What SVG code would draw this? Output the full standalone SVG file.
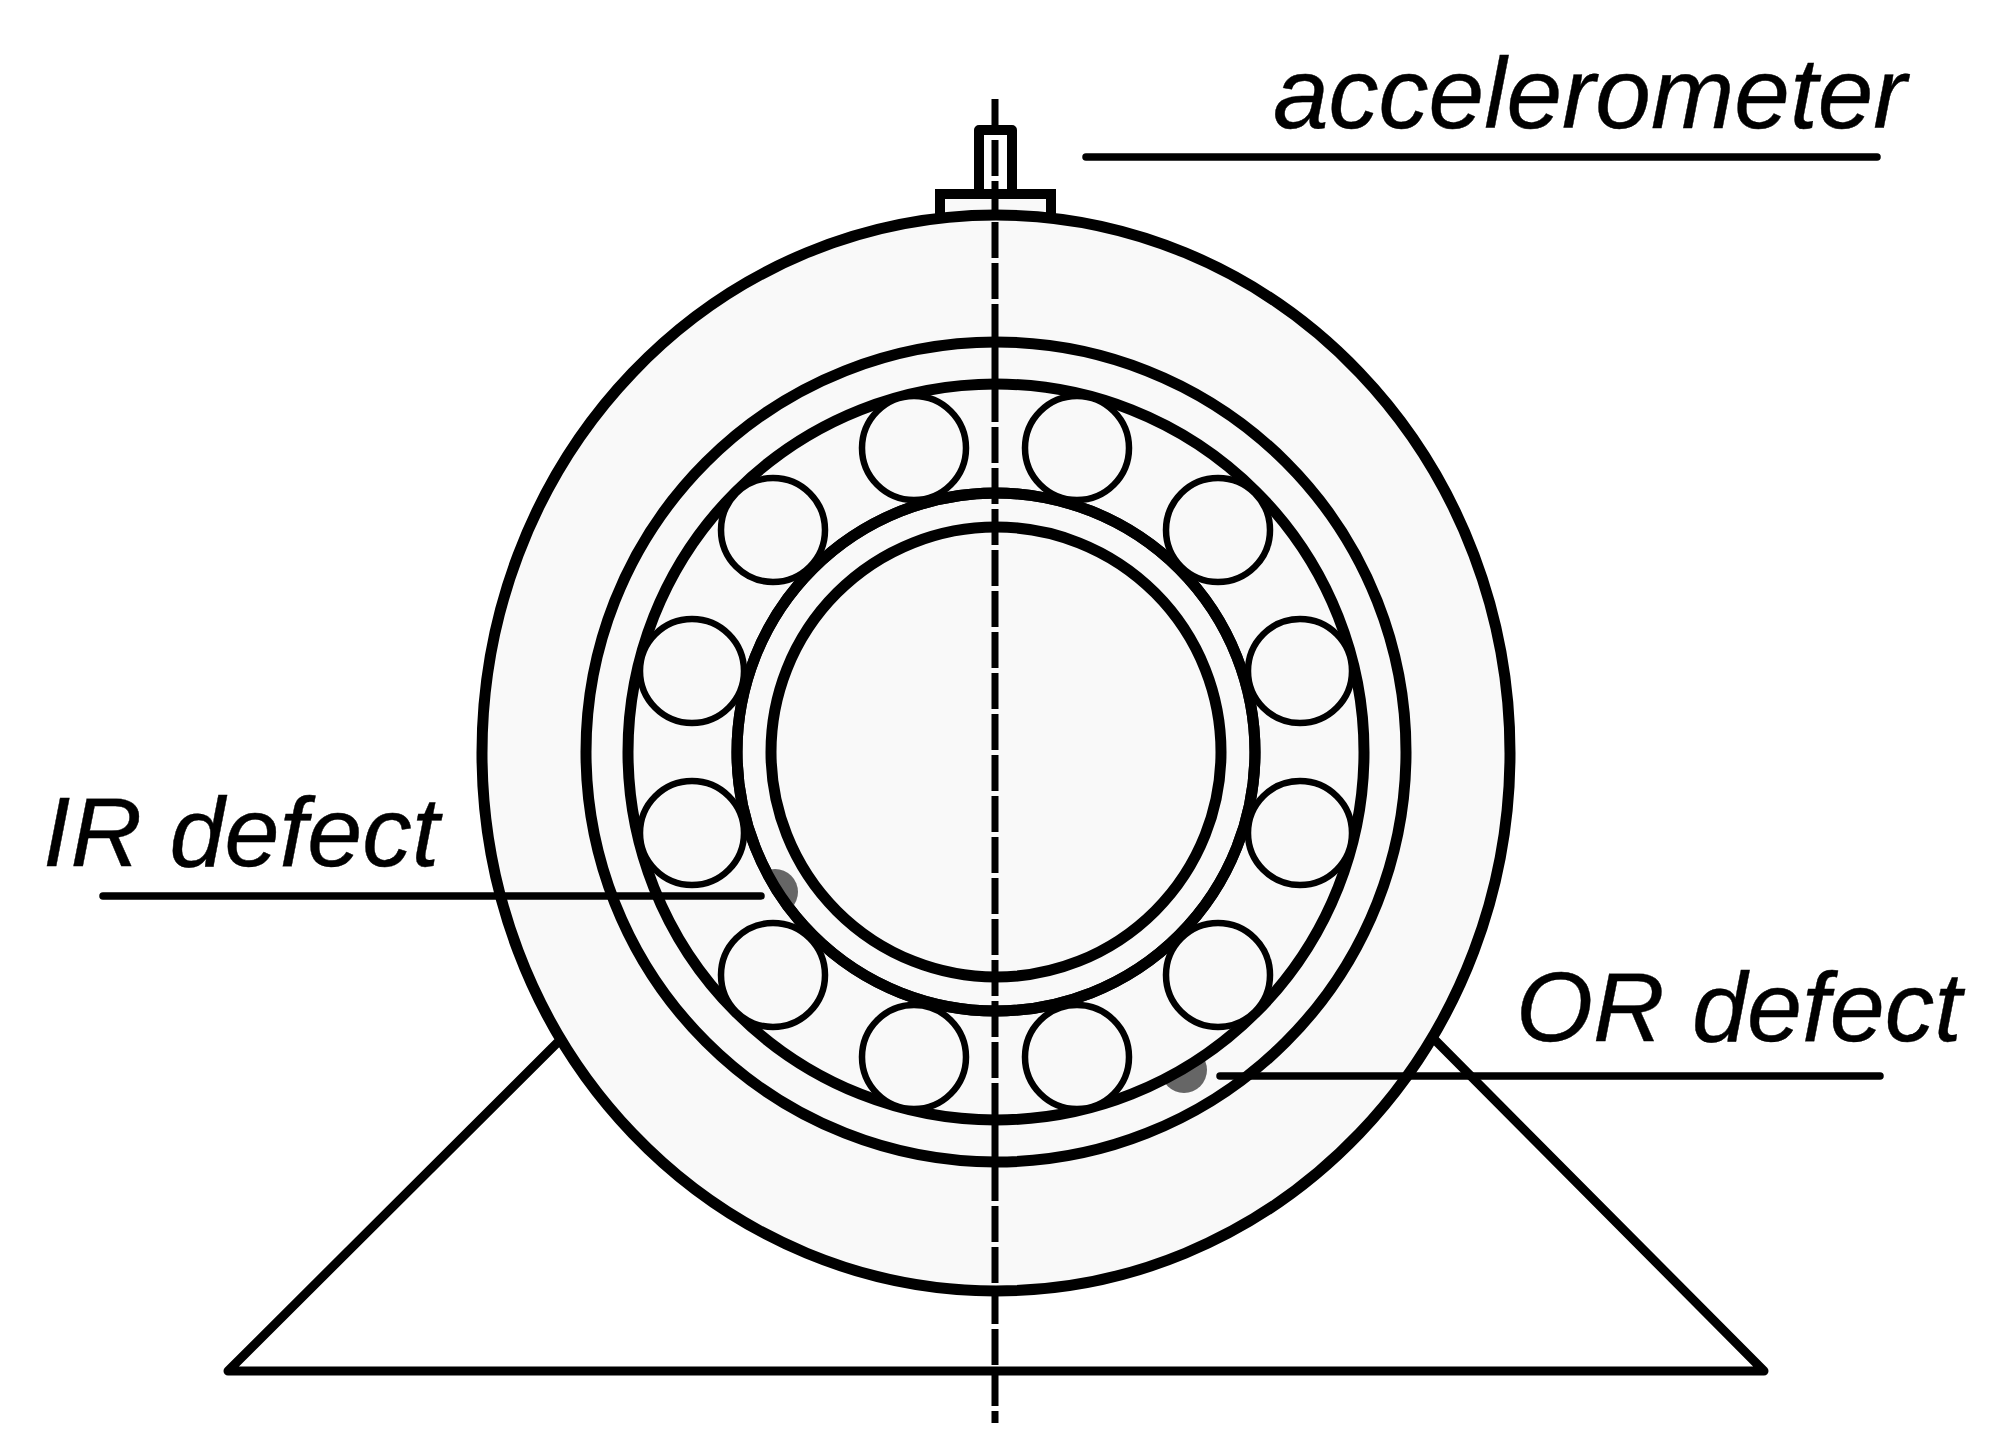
<svg xmlns="http://www.w3.org/2000/svg" width="2007" height="1452" viewBox="0 0 2007 1452">
<style>
.part{fill:#f9f9f9;stroke:#000;stroke-width:11}
.ball{fill:#f9f9f9;stroke:#000;stroke-width:6.5}
.defect{fill:#666}
.lead{fill:none;stroke:#000;stroke-width:7.5;stroke-linecap:round;stroke-linejoin:round}
.stand{fill:none;stroke:#000;stroke-width:9;stroke-linecap:round;stroke-linejoin:round}
.label{font-family:"Liberation Sans",Arial,sans-serif;font-style:italic;font-size:100px;fill:#000;stroke:#000;stroke-width:.4}
.short{font-size:99px}
</style>
<defs><clipPath id="irClip"><circle cx="996" cy="752" r="259"/></clipPath></defs>
<rect width="2007" height="1452" fill="#fff"/>
<g id="stand"><path class="stand" d="M557 1043L228 1371H1764L1433 1038"/></g>
<g id="sensor">
<path d="M979 189V130H1012V189" fill="#fff" stroke="#000" stroke-width="10" stroke-linejoin="round"/>
<path d="M940 230V194H1051V230" fill="#f9f9f9" stroke="#000" stroke-width="10"/>
</g>
<g id="housing"><ellipse class="part" cx="996" cy="753" rx="514" ry="538"/></g>
<g id="outer-race"><circle class="part" cx="996" cy="752" r="410"/></g>
<g id="or-defect-mark"><circle class="defect" cx="1184" cy="1070" r="23"/></g>
<g id="outer-race-bore"><circle class="part" cx="996" cy="752" r="368"/></g>
<g id="inner-race"><circle class="part" cx="996" cy="752" r="259"/></g>
<g id="ir-defect-mark"><circle class="defect" cx="775" cy="892" r="23" clip-path="url(#irClip)"/></g>
<g id="inner-race-outline"><circle cx="996" cy="752" r="259" fill="none" stroke="#000" stroke-width="11"/></g>
<g id="bore"><circle class="part" cx="996" cy="752" r="225"/></g>
<g id="balls">
<circle class="ball" cx="914" cy="448" r="52"/>
<circle class="ball" cx="1077" cy="448" r="52"/>
<circle class="ball" cx="773" cy="530" r="52"/>
<circle class="ball" cx="1218" cy="530" r="52"/>
<circle class="ball" cx="692" cy="671" r="52"/>
<circle class="ball" cx="1300" cy="671" r="52"/>
<circle class="ball" cx="692" cy="833" r="52"/>
<circle class="ball" cx="1300" cy="833" r="52"/>
<circle class="ball" cx="773" cy="975" r="52"/>
<circle class="ball" cx="1218" cy="975" r="52"/>
<circle class="ball" cx="914" cy="1057" r="52"/>
<circle class="ball" cx="1077" cy="1057" r="52"/>
</g>
<g id="connectors">
<path d="M995 99V1423" fill="none" stroke="#000" stroke-width="7" stroke-dasharray="36 5"/>
<path class="lead" d="M1086 157H1877"/>
<path class="lead" d="M103 896H761"/>
<path class="lead" d="M1220 1076H1880"/>
</g>
<g id="label-accelerometer"><text class="label" x="1273" y="128">accelerometer</text></g>
<g id="label-ir"><text class="label short" x="43" y="866">IR defect</text></g>
<g id="label-or"><text class="label short" x="1516" y="1041">OR defect</text></g>
</svg>
